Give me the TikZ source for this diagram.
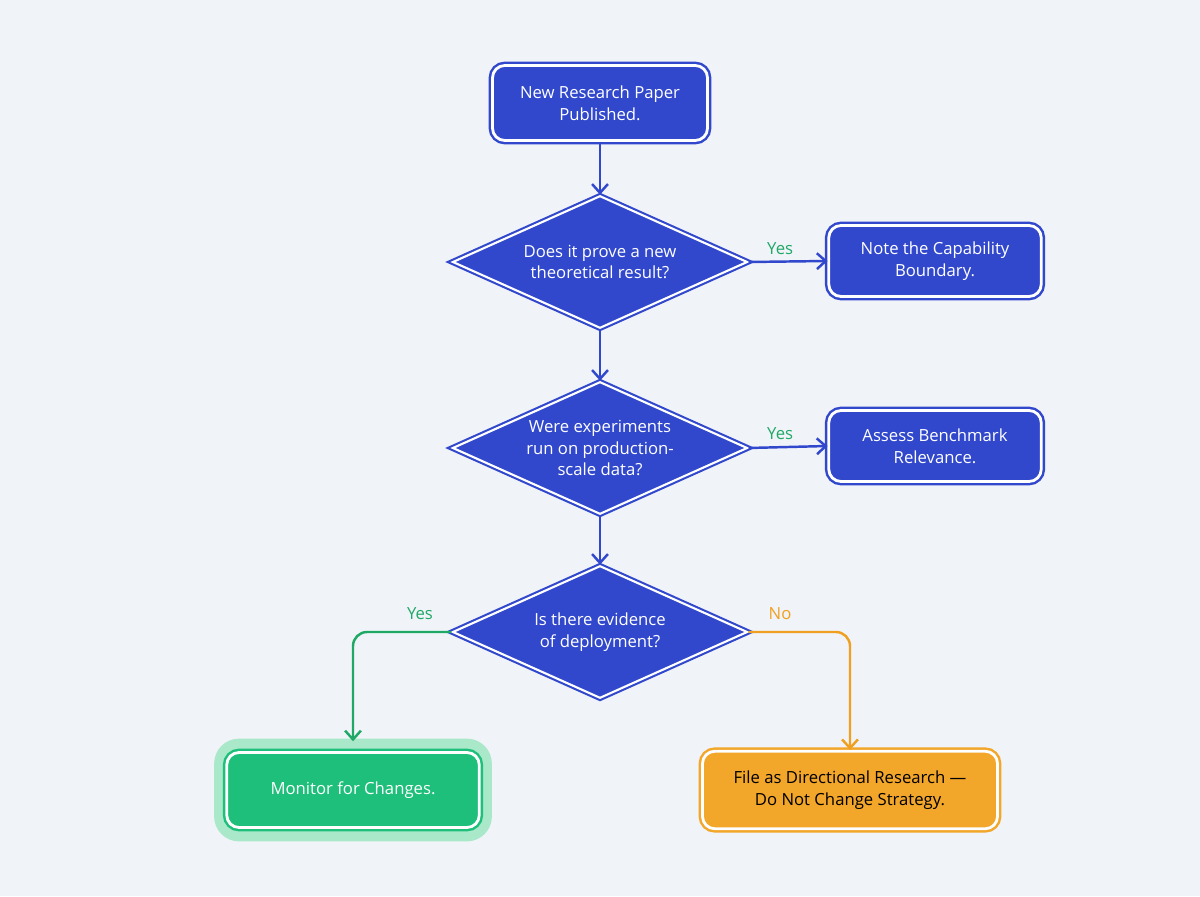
\documentclass[tikz,border=0pt]{standalone}
\usepackage{fontspec}
\setmainfont{Open Sans}
\usetikzlibrary{shapes.geometric,arrows.meta,positioning}
\definecolor{bgc}{HTML}{F0F3F8}
\definecolor{blu}{HTML}{3148CC}
\definecolor{grn}{HTML}{1DBF7A}
\definecolor{grnlt}{HTML}{A9E9C9}
\definecolor{org}{HTML}{F2A62A}
\definecolor{ylab}{HTML}{1FA866}
\definecolor{nlab}{HTML}{F0A020}
\tikzset{
  box/.style={rectangle,rounded corners=7pt,fill=blu,draw=blu,double=white,double distance=1.6pt,line width=1.4pt,
    text=white,align=center,font=\fontsize{9.5}{12.5}\selectfont},
  dec/.style={diamond,aspect=2.2,fill=blu,draw=blu,double=white,double distance=1.2pt,line width=1.2pt,
    text=white,align=center,inner sep=0pt,minimum width=5.9cm,minimum height=2.65cm,
    font=\fontsize{9.5}{12.5}\selectfont},
  arr/.style={-{Straight Barb[length=5pt,width=9pt]},line width=1.4pt,draw=blu},
  lab/.style={font=\fontsize{9.5}{12}\selectfont}
}
\begin{document}
\begin{tikzpicture}
\fill[bgc] (0,0) rectangle (24,17.92);
\useasboundingbox (0,0) rectangle (24,17.92);

\node[box,minimum width=4.3cm,minimum height=1.5cm] (paper) at (12,15.86) {New Research Paper\\Published.};
\node[dec] (theory) at (12,12.68) {Does it prove a new\\theoretical result?};
\node[box,minimum width=4.25cm,minimum height=1.42cm] (bound) at (18.7,12.7) {Note the Capability\\Boundary.};
\node[dec] (scale) at (12,8.96) {Were experiments\\run on production-\\scale data?};
\node[box,minimum width=4.25cm,minimum height=1.42cm] (bench) at (18.7,9.0) {Assess Benchmark\\Relevance.};
\node[dec] (deploy) at (12,5.28) {Is there evidence\\of deployment?};

% outcome boxes
\node[box,draw=grnlt,fill=grnlt,double=grnlt,rounded corners=12pt,minimum width=5.4cm,minimum height=1.9cm] (glow) at (7.06,2.12) {};
\node[box,fill=grn,draw=grn,minimum width=5.05cm,minimum height=1.5cm] (monitor) at (7.06,2.12) {Monitor for Changes.};
\node[box,fill=org,draw=org,minimum width=5.9cm,minimum height=1.55cm,text=black] (file) at (17,2.12) {File as Directional Research ---\\Do Not Change Strategy.};

\draw[arr] (paper) -- (theory);
\draw[arr] (theory) -- (scale);
\draw[arr] (scale) -- (deploy);
\draw[arr] (theory.east) -- node[lab,text=ylab,above,pos=0.4]{Yes} (bound.west);
\draw[arr] (scale.east) -- node[lab,text=ylab,above,pos=0.4]{Yes} (bench.west);
\draw[arr,draw=ylab,rounded corners=8pt] (deploy.west) -| (glow.north);
\draw[arr,draw=nlab,rounded corners=8pt] (deploy.east) -| (file.north);
\node[lab,text=ylab] at (8.4,5.64) {Yes};
\node[lab,text=nlab] at (15.6,5.64) {No};
\end{tikzpicture}
\end{document}
